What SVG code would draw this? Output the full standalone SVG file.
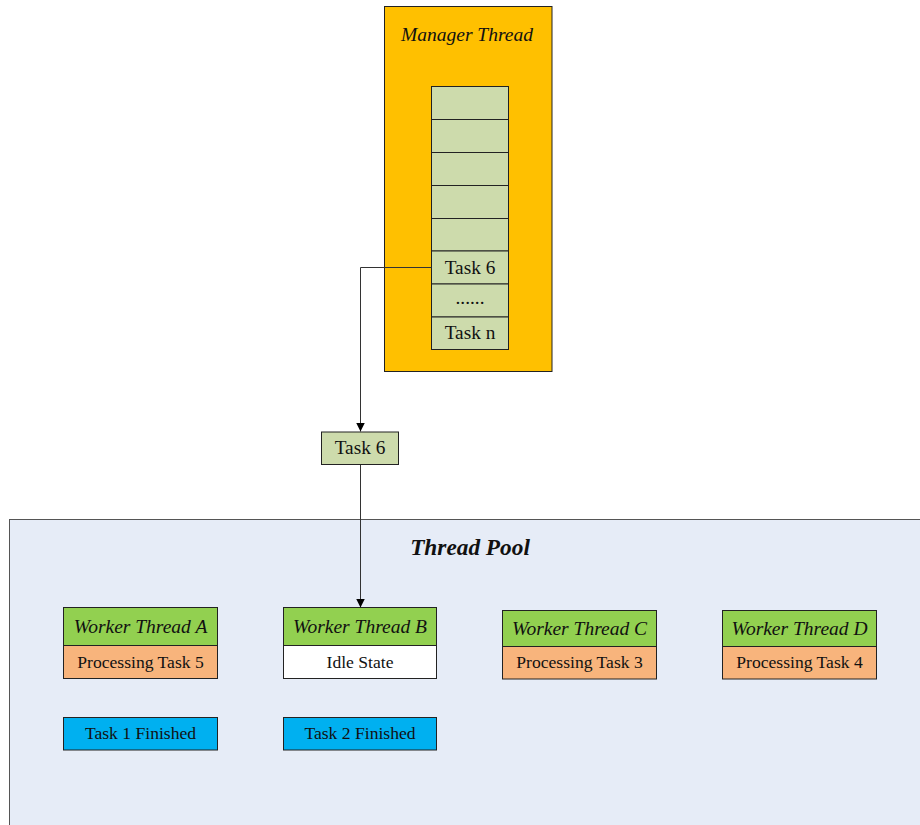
<svg xmlns="http://www.w3.org/2000/svg" width="920" height="825" viewBox="0 0 920 825">
<defs>
<marker id="arr" viewBox="0 0 10 10" refX="10" refY="5" markerWidth="9" markerHeight="9" markerUnits="userSpaceOnUse" orient="auto">
<path d="M0,0 L10,5 L0,10 z" fill="#000"/>
</marker>
<style>
text{font-family:"Liberation Serif","Times New Roman",serif;fill:#111;text-anchor:middle;dominant-baseline:central}
.q{fill:#CDDBAC;stroke:#222;stroke-width:1}
.hd{fill:#92D050;stroke:#222;stroke-width:1}
.pr{fill:#F8B47C;stroke:#222;stroke-width:1}
.id{fill:#FFFFFF;stroke:#222;stroke-width:1}
.fn{fill:#00B0F0;stroke:#222;stroke-width:1}
.it{font-style:italic;font-size:19.5px}
.t{font-size:19.3px}
.s{font-size:17.6px}
.c{fill:none;stroke:#333;stroke-width:1}
</style>
</defs>
<g id="thread-pool">
<rect x="9.5" y="519.5" width="920" height="320" fill="#E6ECF7" stroke="#555" stroke-width="1"/>
<text x="470" y="547" style="font-size:23.3px;font-weight:bold;font-style:italic">Thread Pool</text>
</g>
<g id="manager-thread">
<rect x="384.5" y="6.5" width="167.5" height="365" fill="#FFC000" stroke="#222" stroke-width="1"/>
<text class="it" x="467" y="34">Manager Thread</text>
</g>
<g id="queue">
<rect class="q" x="431.5" y="86.5" width="77" height="33"/>
<rect class="q" x="431.5" y="119.5" width="77" height="33"/>
<rect class="q" x="431.5" y="152.5" width="77" height="33"/>
<rect class="q" x="431.5" y="185.5" width="77" height="33"/>
<rect class="q" x="431.5" y="218.5" width="77" height="32.5"/>
<rect class="q" x="431.5" y="251" width="77" height="33"/>
<text class="t" x="470" y="267">Task 6</text>
<rect class="q" x="431.5" y="284" width="77" height="33"/>
<text class="t" x="470" y="297">......</text>
<rect class="q" x="431.5" y="317" width="77" height="32.5"/>
<text class="t" x="470" y="332.5">Task n</text>
</g>
<g id="connectors">
<polyline class="c" points="431.5,267.5 360.5,267.5 360.5,431.5" marker-end="url(#arr)"/>
<line class="c" x1="360.5" y1="464.5" x2="360.5" y2="607.5" marker-end="url(#arr)"/>
</g>
<g id="task6">
<rect class="q" x="321.5" y="432" width="77" height="32.5"/>
<text class="t" x="360" y="447.5">Task 6</text>
</g>
<g id="worker-a">
<rect class="hd" x="63.5" y="607.5" width="154" height="38"/>
<text class="it" x="140.5" y="626">Worker Thread A</text>
<rect class="pr" x="63.5" y="645.5" width="154" height="33"/>
<text class="s" x="140.5" y="662">Processing Task 5</text>
</g>
<g id="worker-b">
<rect class="hd" x="283.5" y="607.5" width="153" height="38"/>
<text class="it" x="360" y="626">Worker Thread B</text>
<rect class="id" x="283.5" y="645.5" width="153" height="33"/>
<text class="s" x="360" y="662">Idle State</text>
</g>
<g id="worker-c">
<rect class="hd" x="502.5" y="610.5" width="154" height="36"/>
<text class="it" x="579.5" y="628.5">Worker Thread C</text>
<rect class="pr" x="502.5" y="646.5" width="154" height="32.5"/>
<text class="s" x="579.5" y="662">Processing Task 3</text>
</g>
<g id="worker-d">
<rect class="hd" x="722.5" y="610.5" width="154" height="36"/>
<text class="it" x="799.5" y="628.5">Worker Thread D</text>
<rect class="pr" x="722.5" y="646.5" width="154" height="32.5"/>
<text class="s" x="799.5" y="662">Processing Task 4</text>
</g>
<g id="task1-finished">
<rect class="fn" x="63.5" y="717.5" width="154" height="32.5"/>
<text class="s" x="140.5" y="733">Task 1 Finished</text>
</g>
<g id="task2-finished">
<rect class="fn" x="283.5" y="717.5" width="153" height="32.5"/>
<text class="s" x="360" y="733">Task 2 Finished</text>
</g>
</svg>
